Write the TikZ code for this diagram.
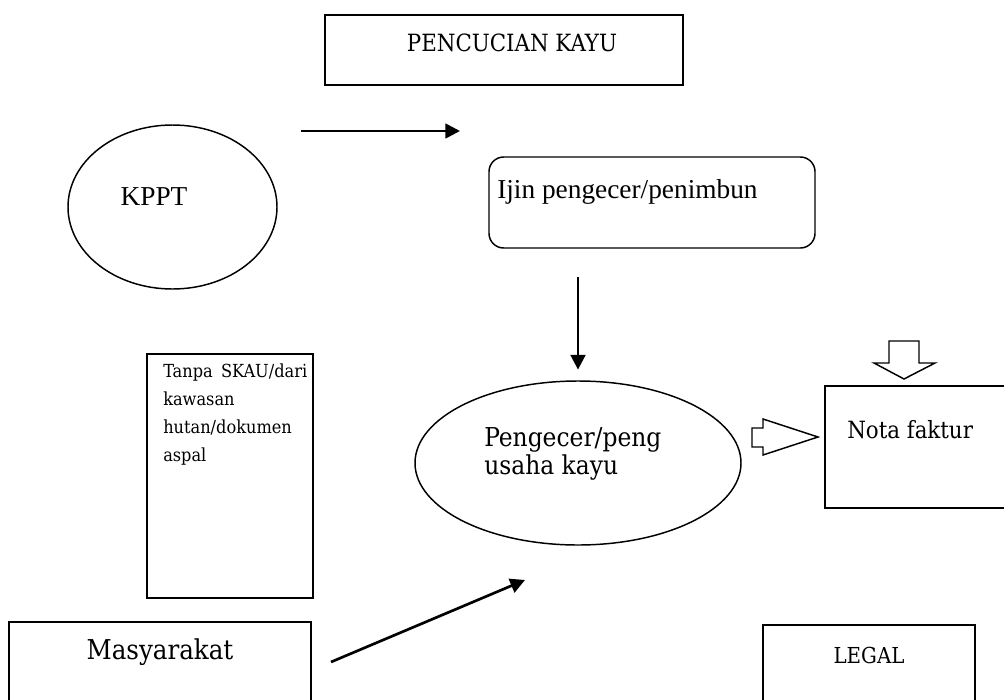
\documentclass[tikz,border=0pt]{standalone}
\usepackage{fontspec}
\usepackage{tikz}
\usetikzlibrary{positioning, calc, arrows.meta, shapes.geometric}
\setmainfont{DejaVu Serif Condensed}
\newfontfamily\timesfont{Liberation Serif}

\begin{document}
\begin{tikzpicture}[x=0.75pt, y=-0.75pt,
    box/.style = {shape=rectangle, draw, line width=1.1pt, inner sep=0pt},
    oval/.style = {shape=ellipse, draw, line width=1.1pt, inner sep=0pt},
    txt/.style = {inner sep=0pt, align=left},
    arr/.style = {line width=2pt, -{Triangle[length=11pt, width=11pt]}},
    blockarrow/.style = {draw, line width=1.1pt, line join=miter}]
    \clip (0,0) rectangle (1004,700);

    \node[box, minimum width=268.5pt, minimum height=52.5pt] (pencucian) at (504,50) {};
    \node[txt, font=\fontsize{17.8}{21}\selectfont] (pencuciantext) at (512,43) {PENCUCIAN KAYU};

    \node[oval, minimum width=156.75pt, minimum height=123pt] (kppt) at (172.5,207) {};
    \node[txt, font=\timesfont\fontsize{20.5}{24}\selectfont] (kppttext) at (154,197) {KPPT};

    \node[box, rounded corners=11pt, minimum width=244.5pt, minimum height=68.25pt] (ijin) at (652,202.5) {};
    \node[txt, anchor=west, font=\timesfont\fontsize{20.5}{24}\selectfont] (ijintext) at (497,192) {Ijin pengecer/penimbun};

    \coordinate (toparrowstart) at (301,131);
    \coordinate (toparrowend) at (460,131);
    \draw[arr] (toparrowstart) -- (toparrowend);

    \node[oval, minimum width=244.5pt, minimum height=123pt] (pengecer) at (578,463) {};
    \node[txt, anchor=west, font=\fontsize{19.5}{21}\selectfont] (pengecertext) at (484,454) {Pengecer/peng\\usaha kayu};

    \coordinate (downstart) at (578,277);
    \draw[arr] (downstart) -- ([yshift=8pt]pengecer.north);

    \node[box, minimum width=124.5pt, minimum height=183pt] (tanpa) at (230,476) {};
    \node[txt, anchor=north west, text width=108pt, font=\fontsize{13.5}{21}\selectfont] (tanpatext) at (163,364) {Tanpa\hfill SKAU/dari\\kawasan\\hutan/dokumen\\aspal};

    \node[box, minimum width=138.75pt, minimum height=91.5pt] (nota) at (917.5,447) {};
    \node[txt, anchor=west, font=\fontsize{17.8}{22}\selectfont] (notatext) at (847,430) {Nota faktur};

    \draw[blockarrow] (889,341) -- (919,341) -- (919,363) -- (935,363) -- (904,379) -- (874,363) -- (889,363) -- cycle;
    \draw[blockarrow] (752,428) -- (763,428) -- (763,419) -- (818,437) -- (763,455) -- (763,447) -- (752,447) -- cycle;

    \node[box, minimum width=226.5pt, minimum height=75pt] (masyarakat) at (160,672) {};
    \node[txt, font=\fontsize{20.5}{24}\selectfont] (masyarakattext) at (160,652) {Masyarakat};

    \node[box, minimum width=159pt, minimum height=72.75pt] (legal) at (869,673.5) {};
    \node[txt, font=\fontsize{16.5}{20}\selectfont] (legaltext) at (869,655) {LEGAL};

    \coordinate (masyarrowstart) at (331,662);
    \coordinate (masyarrowend) at (525,580);
    \draw[arr] (masyarrowstart) -- (masyarrowend);
\end{tikzpicture}
\end{document}
